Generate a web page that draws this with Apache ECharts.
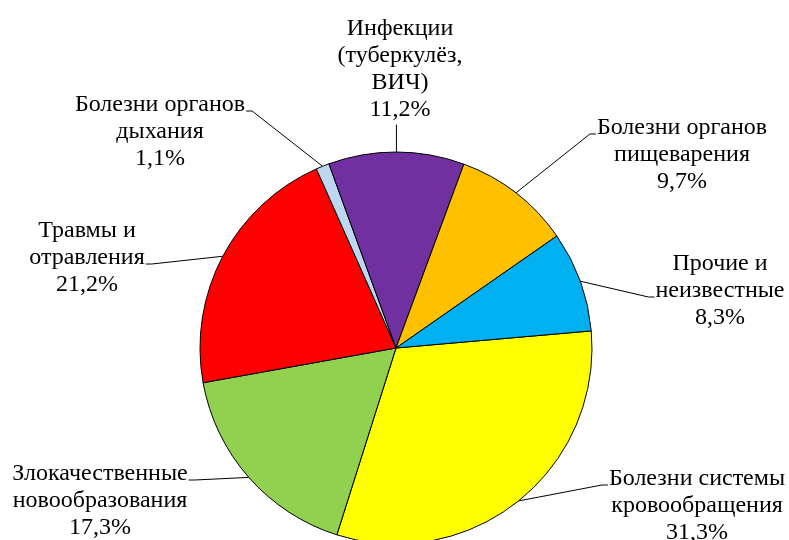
<!DOCTYPE html>
<html>
<head>
<meta charset="utf-8">
<script src="https://cdn.jsdelivr.net/npm/echarts@6/dist/echarts.min.js"></script>
<style>
  html, body { margin: 0; padding: 0; background: #fff; }
  #chart { width: 789px; height: 540px; }
</style>
</head>
<body>
<div id="chart"></div>
<script>
// Causes of death, share in percent (clockwise from the right-hand side)
const causes = [
  'Болезни системы\nкровообращения',
  'Злокачественные\nновообразования',
  'Травмы и\nотравления',
  'Болезни органов\nдыхания',
  'Инфекции\n(туберкулёз,\nВИЧ)',
  'Болезни органов\nпищеварения',
  'Прочие и\nнеизвестные'
];
const shares = [31.3, 17.3, 21.2, 1.1, 11.2, 9.7, 8.3];
const colors = ['#FFFF00', '#92D050', '#FF0000', '#BDD7EE', '#7030A0', '#FFC000', '#00B0F0'];

// Where each label sits: centre x, centre of its first text line,
// the side of the text block the leader meets, and which text line it meets.
const labelSpots = [
  { x: 697, y: 479, side: 'left',  line: 0 },
  { x: 100, y: 474, side: 'right', line: 0 },
  { x: 87,  y: 231, side: 'right', line: 1 },
  { x: 160, y: 105, side: 'right', line: 0 },
  { x: 400, y: 29,  side: 'bottom' },
  { x: 682, y: 128, side: 'left',  line: 0 },
  { x: 720, y: 264, side: 'left',  line: 1 }
];
const LINE_H = 27;
const FONT = "'Liberation Serif', 'Times New Roman', serif";

const chart = echarts.init(document.getElementById('chart'), null, { renderer: 'canvas' });

chart.setOption({
  animation: false,
  backgroundColor: '#ffffff',
  textStyle: { fontFamily: FONT },
  series: [{
    type: 'pie',
    center: [396, 348],
    radius: 196,
    startAngle: 5,
    clockwise: true,
    avoidLabelOverlap: false,
    silent: true,
    data: causes.map((name, i) => ({
      name: name,
      value: shares[i],
      itemStyle: { color: colors[i] }
    })),
    itemStyle: { borderColor: '#000000', borderWidth: 1 },
    label: {
      show: true,
      position: 'outside',
      color: '#000000',
      fontFamily: FONT,
      fontSize: 24,
      lineHeight: LINE_H,
      align: 'center',
      formatter: p => p.name + '\n' + p.value.toFixed(1).replace('.', ',') + '%'
    },
    labelLine: {
      show: true,
      length: 10,
      length2: 10,
      lineStyle: { color: '#000000', width: 1 }
    },
    labelLayout: function (p) {
      const s = labelSpots[p.dataIndex];
      const w = p.labelRect.width;
      const h = p.labelRect.height;
      const top = s.y - LINE_H / 2;
      const anchor = p.labelLinePoints ? p.labelLinePoints[0] : [s.x, top + h];
      let mid, end;
      if (s.side === 'bottom') {
        end = [anchor[0], top + h + 1];
        mid = end;
      } else {
        const ly = top + LINE_H * s.line + LINE_H / 2 + 6;
        if (s.side === 'left') {
          end = [s.x - w / 2 - 1, ly];
          mid = [end[0] - 6, ly];
        } else {
          end = [s.x + w / 2 + 1, ly];
          mid = [end[0] + 6, ly];
        }
      }
      return {
        x: s.x,
        y: top,
        align: 'center',
        verticalAlign: 'top',
        labelLinePoints: [anchor, mid, end]
      };
    }
  }]
});
</script>
</body>
</html>
